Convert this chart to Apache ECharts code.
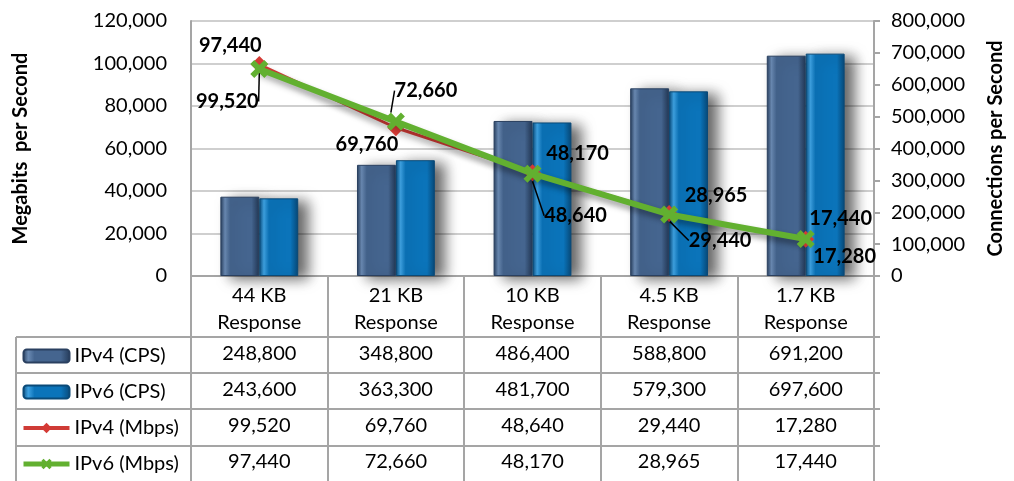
<!DOCTYPE html>
<html>
<head>
<meta charset="utf-8">
<script src="https://cdn.jsdelivr.net/npm/echarts@6/dist/echarts.min.js"></script>
<style>
  html, body { margin: 0; padding: 0; background: #fff; }
  #main { width: 1014px; height: 481px; }
</style>
</head>
<body>
<div id="main"></div>
<script>
const categories = ['44 KB Response', '21 KB Response', '10 KB Response', '4.5 KB Response', '1.7 KB Response'];
const ipv4Cps = [248800, 348800, 486400, 588800, 691200];
const ipv6Cps = [243600, 363300, 481700, 579300, 697600];
const ipv4Mbps = [99520, 69760, 48640, 29440, 17280];
const ipv6Mbps = [97440, 72660, 48170, 28965, 17440];
const seriesNames = ['IPv4 (CPS)', 'IPv6 (CPS)', 'IPv4 (Mbps)', 'IPv6 (Mbps)'];

// label placement (style only)
const ipv4LabelShift = [[-32, 37], [-29, 17], [43, 43], [51, 27], [39, 17]];
const ipv6LabelShift = [[-29, -23], [30, -31], [45, -20], [47, -19], [35, -20]];
const ipv4Leader = [true, false, true, true, false];
const ipv6Leader = [false, true, false, false, false];

const FONT = 'Lato, "Open Sans", sans-serif';
const fmt = v => Number(v).toLocaleString('en-US');

// layout
const W = 1014, H = 481;
const G_LEFT = 191, G_RIGHT = 880, G_TOP = 21, G_BOTTOM = 276;
const TABLE_LEFT = 16;
const HEADER_LINE = 27, ROW_H = 36, LABEL_MARGIN = 6;
const rowLines = [337, 373, 409, 446];

var chart = echarts.init(document.getElementById('main'));

const tableRows = [ipv4Cps, ipv6Cps, ipv4Mbps, ipv6Mbps];

const xMarker = 'path://M0,2.2 L2.2,0 L5,2.8 L7.8,0 L10,2.2 L7.2,5 L10,7.8 L7.8,10 L5,7.2 L2.2,10 L0,7.8 L2.8,5 Z';

function barColor(edge, face, light) {
  return new echarts.graphic.LinearGradient(0, 0, 1, 0, [
    { offset: 0, color: edge },
    { offset: 0.12, color: light },
    { offset: 0.25, color: face },
    { offset: 0.8, color: face },
    { offset: 1, color: edge }
  ]);
}

const barShadow = {
  shadowColor: 'rgba(0,0,0,0.6)',
  shadowBlur: 14,
  shadowOffsetX: 10,
  shadowOffsetY: 3
};

const lineLabel = {
  show: true,
  position: 'inside',
  formatter: p => fmt(p.value),
  color: '#000',
  fontFamily: FONT,
  fontWeight: 'bold',
  fontSize: 20
};

const leader = { show: true, length2: 0, lineStyle: { color: '#000', width: 1.5 } };

chart.setOption({
  animation: false,
  textStyle: { fontFamily: FONT },
  grid: {
    left: G_LEFT,
    right: W - G_RIGHT,
    top: G_TOP,
    bottom: H - G_BOTTOM
  },
  legend: {
    orient: 'vertical',
    left: 21,
    top: 346,
    padding: 0,
    itemWidth: 46,
    itemHeight: 13,
    itemGap: 16,
    data: [
      { name: seriesNames[0] },
      { name: seriesNames[1] },
      { name: seriesNames[2], lineStyle: { width: 4 } },
      { name: seriesNames[3], lineStyle: { width: 5 } }
    ],
    textStyle: { color: '#000', fontSize: 20, lineHeight: 20, fontFamily: FONT }
  },
  xAxis: {
    type: 'category',
    data: categories,
    axisLine: { show: true, lineStyle: { color: '#a5a5a5', width: 2 } },
    axisTick: { show: true, length: H - G_BOTTOM, lineStyle: { color: '#a5a5a5', width: 2 } },
    axisLabel: {
      interval: 0,
      margin: LABEL_MARGIN,
      color: '#000',
      fontFamily: FONT,
      fontSize: 20,
      formatter: (value, idx) => {
        const parts = value.split(' Response');
        const lines = ['{h|' + parts[0] + '}', '{h|Response}'];
        tableRows.forEach(r => lines.push('{v|' + fmt(r[idx]) + '}'));
        return lines.join('\n');
      },
      rich: {
        h: { lineHeight: HEADER_LINE, fontSize: 20, color: '#000', fontFamily: FONT },
        v: { lineHeight: ROW_H, fontSize: 20, color: '#000', fontFamily: FONT }
      }
    }
  },
  yAxis: [
    {
      type: 'value',
      min: 0,
      max: 120000,
      interval: 20000,
      name: 'Megabits  per Second',
      nameLocation: 'middle',
      nameRotate: 90,
      nameGap: 160,
      nameTextStyle: { color: '#000', fontWeight: 'bold', fontSize: 20, fontFamily: FONT },
      axisLine: { show: true, lineStyle: { color: '#a5a5a5', width: 2 } },
      axisTick: { show: false },
      axisLabel: { color: '#000', fontSize: 20, margin: 24, formatter: fmt },
      splitLine: { lineStyle: { color: '#cfcfcf', width: 2 } }
    },
    {
      type: 'value',
      position: 'right',
      min: 0,
      max: 800000,
      interval: 100000,
      name: 'Connections per Second',
      nameLocation: 'middle',
      nameRotate: 90,
      nameGap: 112,
      nameTextStyle: { color: '#000', fontWeight: 'bold', fontSize: 20, fontFamily: FONT },
      axisLine: { show: true, lineStyle: { color: '#a5a5a5', width: 2 } },
      axisTick: { show: true, length: 6, lineStyle: { color: '#a5a5a5', width: 2 } },
      axisLabel: { color: '#000', fontSize: 20, margin: 17, formatter: fmt },
      splitLine: { show: false }
    }
  ],
  graphic: rowLines.map(y => ({
    type: 'line',
    silent: true,
    shape: { x1: TABLE_LEFT, y1: y, x2: G_RIGHT, y2: y },
    style: { stroke: '#a5a5a5', lineWidth: 2 }
  })).concat([{
    type: 'line',
    silent: true,
    shape: { x1: TABLE_LEFT, y1: rowLines[0], x2: TABLE_LEFT, y2: H },
    style: { stroke: '#a5a5a5', lineWidth: 2 }
  }]),
  series: [
    {
      name: seriesNames[0],
      type: 'bar',
      yAxisIndex: 1,
      barGap: 0,
      barCategoryGap: '43%',
      itemStyle: Object.assign({
        color: barColor('#243a58', '#45658f', '#6a8ab3'),
        borderColor: '#2a4060',
        borderWidth: 1
      }, barShadow),
      data: ipv4Cps
    },
    {
      name: seriesNames[1],
      type: 'bar',
      yAxisIndex: 1,
      barGap: 0,
      barCategoryGap: '43%',
      itemStyle: Object.assign({
        color: barColor('#084877', '#0b74ba', '#3ea2e2'),
        borderColor: '#0a4a78',
        borderWidth: 1
      }, barShadow),
      data: ipv6Cps
    },
    {
      name: seriesNames[2],
      type: 'line',
      yAxisIndex: 0,
      z: 3,
      symbol: 'diamond',
      symbolSize: 17,
      lineStyle: { color: '#cf3b36', width: 3, shadowColor: 'rgba(0,0,0,0.3)', shadowBlur: 6, shadowOffsetY: 4 },
      itemStyle: { color: '#d43a35' },
      label: lineLabel,
      labelLine: leader,
      labelLayout: p => ({ dx: ipv4LabelShift[p.dataIndex][0], dy: ipv4LabelShift[p.dataIndex][1] }),
      data: ipv4Mbps.map((v, i) => ({ value: v, labelLine: { show: ipv4Leader[i] } }))
    },
    {
      name: seriesNames[3],
      type: 'line',
      yAxisIndex: 0,
      z: 4,
      symbol: xMarker,
      symbolSize: 18,
      lineStyle: { color: '#62b030', width: 6, shadowColor: 'rgba(0,0,0,0.3)', shadowBlur: 6, shadowOffsetY: 4 },
      itemStyle: { color: '#62b030' },
      label: lineLabel,
      labelLine: leader,
      labelLayout: p => ({ dx: ipv6LabelShift[p.dataIndex][0], dy: ipv6LabelShift[p.dataIndex][1] }),
      data: ipv6Mbps.map((v, i) => ({ value: v, labelLine: { show: ipv6Leader[i] } }))
    }
  ]
});
</script>
</body>
</html>
